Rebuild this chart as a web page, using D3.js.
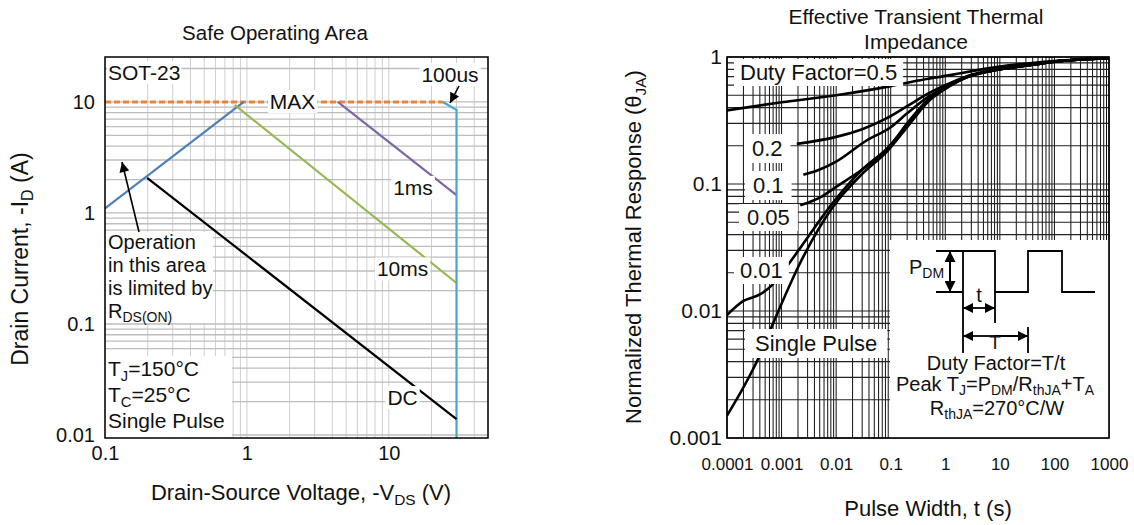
<!DOCTYPE html>
<html><head><meta charset="utf-8">
<script src="https://cdn.jsdelivr.net/npm/d3@7"></script>
<style>
body{margin:0;background:#fff}
svg{display:block}
text{font-family:"Liberation Sans",Arial,Helvetica,sans-serif;fill:#111}
</style>
</head><body>
<svg id="c" width="1134" height="525"></svg>
<script>
// ---------------- DATA ----------------
// Safe Operating Area (left)
const soaVoltageTicks = [0.1, 1, 10];
const soaVoltageTickLabels = ["0.1", "1", "10"];
const soaCurrentTicks = [0.01, 0.1, 1, 10];
const soaCurrentTickLabels = ["0.01", "0.1", "1", "10"];
const soaMax   = [[0.1, 10], [24, 10]];
const soaRdsOn = [[0.1, 1.1], [0.95, 10]];
const soa100us = [[24, 10], [30, 8.5], [30, 0.0094]];
const soa1ms   = [[4.37, 10], [30, 1.45]];
const soa10ms  = [[0.82, 9.4], [30, 0.234]];
const soaDC    = [[0.198, 2.07], [30, 0.0139]];

// Transient thermal impedance (right)
const zthTimeTicks = [1e-4, 1e-3, 0.01, 0.1, 1, 10, 100, 1000];
const zthTimeTickLabels = ["0.0001", "0.001", "0.01", "0.1", "1", "10", "100", "1000"];
const zthTicks = [0.001, 0.01, 0.1, 1];
const zthTickLabels = ["0.001", "0.01", "0.1", "1"];
const duty05 = [[1e-4,0.38],[1e-3,0.44],[0.01,0.5],[0.1,0.59],[0.3,0.65],[1,0.71],[10,0.84],[100,0.93],[1000,0.98]];
const duty02 = [[0.0019,0.207],[0.01,0.235],[0.03,0.27],[0.085,0.33],[0.2,0.41],[0.5,0.52],[1,0.6],[2.4,0.7],[10,0.8],[40,0.87],[100,0.92],[1000,0.98]];
const duty01 = [[0.0025,0.118],[0.005,0.13],[0.01,0.15],[0.036,0.22],[0.1,0.28],[0.2,0.36],[0.5,0.49],[1,0.58],[2.4,0.7],[10,0.8],[40,0.87],[100,0.92],[1000,0.98]];
const duty005 = [[0.0022,0.068],[0.005,0.078],[0.01,0.095],[0.03,0.13],[0.085,0.185],[0.2,0.3],[0.5,0.47],[1,0.57],[2.4,0.69],[10,0.8],[40,0.87],[100,0.92],[1000,0.98]];
const duty001 = [[1e-4,0.0093],[2e-4,0.012],[4e-4,0.0135],[6.7e-4,0.016],[0.0015,0.025],[0.0087,0.071],[0.03,0.13],[0.085,0.19],[0.2,0.29],[0.5,0.46],[1,0.57],[2.4,0.69],[10,0.8],[40,0.87],[100,0.92],[1000,0.98]];
const singlePulse = [[1e-4,0.0015],[4e-4,0.0045],[7e-4,0.008],[0.0022,0.024],[0.0087,0.066],[0.03,0.12],[0.085,0.18],[0.2,0.28],[0.5,0.45],[1,0.56],[2.4,0.69],[10,0.8],[40,0.87],[100,0.92],[1000,0.98]];

// ---------------- HELPERS ----------------
const svg = d3.select("#c");
const defs = svg.append("defs");
defs.append("marker").attr("id","ah").attr("viewBox","0 0 10 10").attr("refX",10).attr("refY",5)
  .attr("markerWidth",11).attr("markerHeight",10).attr("markerUnits","userSpaceOnUse")
  .attr("orient","auto-start-reverse")
  .append("path").attr("d","M0,0L10,5L0,10z").attr("fill","#000");
defs.append("marker").attr("id","ah2").attr("viewBox","0 0 10 10").attr("refX",10).attr("refY",5)
  .attr("markerWidth",11).attr("markerHeight",11).attr("markerUnits","userSpaceOnUse")
  .attr("orient","auto-start-reverse")
  .append("path").attr("d","M0,0L10,5L0,10z").attr("fill","#000");

function rich(g, x, y, parts, size, anchor) {
  const t = g.append("text").attr("x", x).attr("y", y).attr("font-size", size)
    .attr("text-anchor", anchor || "start");
  let inSub = false;
  const sh = size * 0.22;
  parts.forEach(p => {
    const isSub = Array.isArray(p);
    const ts = t.append("tspan").text(isSub ? p[0] : p);
    if (isSub) {
      ts.attr("font-size", size * 0.7);
      if (!inSub) ts.attr("dy", sh);
      inSub = true;
    } else {
      if (inSub) ts.attr("dy", -sh);
      inSub = false;
    }
  });
  return t;
}
function boxBehind(g, textSel, px, py) {
  const b = textSel.node().getBBox();
  g.insert("rect", () => textSel.node())
    .attr("x", b.x - px).attr("y", b.y - py)
    .attr("width", b.width + 2 * px).attr("height", b.height + 2 * py)
    .attr("fill", "#fff");
}
function logGrid(domain) {
  const out = [];
  const lo = Math.floor(Math.log10(domain[0])), hi = Math.ceil(Math.log10(domain[1]));
  for (let e = lo; e <= hi; e++) for (let k = 1; k <= 9; k++) {
    const v = k * Math.pow(10, e);
    if (v >= domain[0] * 0.9999 && v <= domain[1] * 1.0001) out.push(v);
  }
  return out;
}

// ---------------- LEFT: SOA ----------------
const L = {x0: 105, x1: 488, y0: 57, y1: 438};
const xL = d3.scaleLog().domain([0.1, 50]).range([L.x0, L.x1]);
const yL = d3.scaleLog().domain([0.0094, 25.4]).range([L.y1, L.y0]);
const gL = svg.append("g");
defs.append("clipPath").attr("id","clipL").append("rect")
  .attr("x", L.x0).attr("y", L.y0).attr("width", L.x1 - L.x0).attr("height", L.y1 - L.y0);

gL.append("text").attr("x", 275).attr("y", 40).attr("text-anchor","middle").attr("font-size", 20.5).text("Safe Operating Area");

const gridL = gL.append("g");
gridL.selectAll(".v").data(logGrid(xL.domain())).join("line")
  .attr("x1", d => xL(d)).attr("x2", d => xL(d)).attr("y1", L.y0).attr("y2", L.y1)
  .attr("stroke", "#cfcfcf").attr("stroke-width", 1);
gridL.selectAll(".h").data(logGrid(yL.domain())).join("line")
  .attr("y1", d => yL(d)).attr("y2", d => yL(d)).attr("x1", L.x0).attr("x2", L.x1)
  .attr("stroke", "#bdbdbd").attr("stroke-width", 1.3);

const lineL = d3.line().x(d => xL(d[0])).y(d => yL(d[1]));
const plotL = gL.append("g").attr("clip-path", "url(#clipL)");
plotL.append("path").attr("d", lineL(soaMax)).attr("fill","none").attr("stroke","#e8853a").attr("stroke-width",3).attr("stroke-dasharray","6,3");
plotL.append("path").attr("d", lineL(soaRdsOn)).attr("fill","none").attr("stroke","#4f7fb8").attr("stroke-width",2.2);
plotL.append("path").attr("d", lineL(soa10ms)).attr("fill","none").attr("stroke","#98b856").attr("stroke-width",2.2);
plotL.append("path").attr("d", lineL(soa1ms)).attr("fill","none").attr("stroke","#7e66a4").attr("stroke-width",2.2);
plotL.append("path").attr("d", lineL(soa100us)).attr("fill","none").attr("stroke","#46a8c6").attr("stroke-width",2.2);
plotL.append("path").attr("d", lineL(soaDC)).attr("fill","none").attr("stroke","#000").attr("stroke-width",2.2);

// annotations left
const aL = gL.append("g");
const fsL = 21;
let t;
t = aL.append("text").attr("x", 108).attr("y", 80).attr("font-size", fsL).text("SOT-23"); boxBehind(aL, t, 1, 0);
t = aL.append("text").attr("x", 450).attr("y", 82).attr("font-size", fsL).attr("text-anchor","middle").text("100us"); boxBehind(aL, t, 2, 0);
t = aL.append("text").attr("x", xL(2.1)).attr("y", yL(10) + 7).attr("font-size", fsL).attr("text-anchor","middle").text("MAX"); boxBehind(aL, t, 2, 0);
t = aL.append("text").attr("x", xL(14.8)).attr("y", yL(1.68) + 7).attr("font-size", fsL).attr("text-anchor","middle").text("1ms"); boxBehind(aL, t, 2, 0);
t = aL.append("text").attr("x", xL(12.5)).attr("y", yL(0.31) + 7).attr("font-size", fsL).attr("text-anchor","middle").text("10ms"); boxBehind(aL, t, 2, 0);
t = aL.append("text").attr("x", xL(12.5)).attr("y", yL(0.0215) + 7).attr("font-size", fsL).attr("text-anchor","middle").text("DC"); boxBehind(aL, t, 2, 0);

aL.append("rect").attr("x", L.x0 + 1).attr("y", 232).attr("width", 107).attr("height", 91).attr("fill","#fff");
aL.append("text").attr("x", 108).attr("y", 249).attr("font-size", 20).text("Operation");
aL.append("text").attr("x", 108).attr("y", 272).attr("font-size", 20).text("in this area");
aL.append("text").attr("x", 108).attr("y", 295).attr("font-size", 20).text("is limited by");
rich(aL, 108, 318, ["R", ["DS(ON)"]], 20);
aL.append("line").attr("x1",139).attr("y1",232).attr("x2",122).attr("y2",162)
  .attr("stroke","#000").attr("stroke-width",1.6).attr("marker-end","url(#ah)");
aL.append("line").attr("x1",459).attr("y1",86).attr("x2",450).attr("y2",103)
  .attr("stroke","#000").attr("stroke-width",1.6).attr("marker-end","url(#ah)");

aL.append("rect").attr("x", L.x0 + 1).attr("y", 356).attr("width", 126).attr("height", 81).attr("fill","#fff");
rich(aL, 108, 376, ["T", ["J"], "=150°C"], fsL);
rich(aL, 108, 402, ["T", ["C"], "=25°C"], fsL);
aL.append("text").attr("x", 108).attr("y", 428).attr("font-size", fsL).text("Single Pulse");

gL.append("rect").attr("x", L.x0).attr("y", L.y0).attr("width", L.x1 - L.x0).attr("height", L.y1 - L.y0)
  .attr("fill","none").attr("stroke","#000").attr("stroke-width",1.5);

// axes left
const axLB = gL.append("g").attr("transform", `translate(0,${L.y1})`)
  .call(d3.axisBottom(xL).tickValues(soaVoltageTicks).tickFormat((d,i) => soaVoltageTickLabels[i]).tickSize(0).tickPadding(8));
axLB.select(".domain").remove();
axLB.selectAll("text").attr("font-size", 20).attr("font-family", null).attr("fill","#111");
const axLL = gL.append("g").attr("transform", `translate(${L.x0},0)`)
  .call(d3.axisLeft(yL).tickValues(soaCurrentTicks).tickFormat((d,i) => soaCurrentTickLabels[i]).tickSize(0).tickPadding(10));
axLL.select(".domain").remove();
axLL.selectAll("text").attr("font-size", 20).attr("font-family", null).attr("fill","#111");

rich(gL, 301, 500, ["Drain-Source Voltage, -V", ["DS"], " (V)"], 22, "middle");
const yt = rich(gL, 0, 0, ["Drain Current, -I", ["D"], " (A)"], 23, "middle");
yt.attr("transform", "translate(28,259) rotate(-90)");

// ---------------- RIGHT: Zth ----------------
const R = {x0: 727, x1: 1109, y0: 57, y1: 438};
const xR = d3.scaleLog().domain([1e-4, 1e3]).range([R.x0, R.x1]);
const yR = d3.scaleLog().domain([0.001, 1]).range([R.y1, R.y0]);
const gR = svg.append("g");
defs.append("clipPath").attr("id","clipR").append("rect")
  .attr("x", R.x0).attr("y", R.y0).attr("width", R.x1 - R.x0).attr("height", R.y1 - R.y0);

gR.append("text").attr("x", 916).attr("y", 24).attr("text-anchor","middle").attr("font-size", 21).text("Effective Transient Thermal");
gR.append("text").attr("x", 916).attr("y", 49).attr("text-anchor","middle").attr("font-size", 21).text("Impedance");

const gridR = gR.append("g");
gridR.selectAll(".v").data(logGrid(xR.domain())).join("line")
  .attr("x1", d => xR(d)).attr("x2", d => xR(d)).attr("y1", R.y0).attr("y2", R.y1)
  .attr("stroke", "#111").attr("stroke-width", 1);
gridR.selectAll(".h").data(logGrid(yR.domain())).join("line")
  .attr("y1", d => yR(d)).attr("y2", d => yR(d)).attr("x1", R.x0).attr("x2", R.x1)
  .attr("stroke", "#222").attr("stroke-width", 1.2);

// inset white area
gR.append("rect").attr("x", 890).attr("y", 240).attr("width", R.x1 - 890).attr("height", R.y1 - 240).attr("fill","#fff");

const lineR = d3.line().x(d => xR(d[0])).y(d => yR(d[1])).curve(d3.curveMonotoneX);
const plotR = gR.append("g").attr("clip-path", "url(#clipR)");
[duty05, duty02, duty01, duty005, duty001, singlePulse].forEach(s => {
  plotR.append("path").attr("d", lineR(s)).attr("fill","none").attr("stroke","#000").attr("stroke-width",2.6).attr("stroke-linejoin","round");
});

// curve labels
const aR = gR.append("g");
const fsR = 22;
t = aR.append("text").attr("x", 740).attr("y", 80).attr("font-size", fsR).text("Duty Factor=0.5"); boxBehind(aR, t, 6, 1);
t = aR.append("text").attr("x", 752).attr("y", 156).attr("font-size", fsR).text("0.2"); boxBehind(aR, t, 8, 2);
t = aR.append("text").attr("x", 753).attr("y", 193).attr("font-size", fsR).text("0.1"); boxBehind(aR, t, 8, 2);
t = aR.append("text").attr("x", 747).attr("y", 225).attr("font-size", fsR).text("0.05"); boxBehind(aR, t, 8, 1);
t = aR.append("text").attr("x", 740).attr("y", 278).attr("font-size", fsR).text("0.01"); boxBehind(aR, t, 6, 1);
t = aR.append("text").attr("x", 755).attr("y", 351).attr("font-size", fsR).text("Single Pulse"); boxBehind(aR, t, 10, 2);

// inset diagram
const ins = gR.append("g").attr("stroke","#000").attr("stroke-width",1.8).attr("fill","none");
ins.append("path").attr("d","M936,251H995V292H1028V251H1062V292H1095");
ins.append("path").attr("d","M936,292H963M963,251V353M995,292V323M1028,327V353");
ins.append("line").attr("x1",950).attr("y1",272).attr("x2",950).attr("y2",251).attr("stroke-width",2).attr("marker-end","url(#ah2)");
ins.append("line").attr("x1",950).attr("y1",272).attr("x2",950).attr("y2",292).attr("stroke-width",2).attr("marker-end","url(#ah2)");
ins.append("line").attr("x1",979).attr("y1",308).attr("x2",963).attr("y2",308).attr("marker-end","url(#ah)");
ins.append("line").attr("x1",979).attr("y1",308).attr("x2",995).attr("y2",308).attr("marker-end","url(#ah)");
ins.append("line").attr("x1",995).attr("y1",336).attr("x2",963).attr("y2",336).attr("marker-end","url(#ah)");
ins.append("line").attr("x1",995).attr("y1",336).attr("x2",1028).attr("y2",336).attr("marker-end","url(#ah)");
const fsI = 20;
rich(gR, 909, 274, ["P", ["DM"]], fsI);
gR.append("text").attr("x", 979).attr("y", 302).attr("text-anchor","middle").attr("font-size", fsI).text("t");
gR.append("text").attr("x", 995).attr("y", 349).attr("text-anchor","middle").attr("font-size", 19).text("T");
gR.append("text").attr("x", 996).attr("y", 370).attr("text-anchor","middle").attr("font-size", fsI).text("Duty Factor=T/t");
rich(gR, 995, 391, ["Peak T", ["J"], "=P", ["DM"], "/R", ["thJA"], "+T", ["A"]], fsI, "middle");
rich(gR, 997, 415, ["R", ["thJA"], "=270°C/W"], fsI, "middle");

gR.append("rect").attr("x", R.x0).attr("y", R.y0).attr("width", R.x1 - R.x0).attr("height", R.y1 - R.y0)
  .attr("fill","none").attr("stroke","#000").attr("stroke-width",1.6);

const axRB = gR.append("g").attr("transform", `translate(0,${R.y1})`)
  .call(d3.axisBottom(xR).tickValues(zthTimeTicks).tickFormat((d,i) => zthTimeTickLabels[i]).tickSize(0).tickPadding(20));
axRB.select(".domain").remove();
axRB.selectAll("text").attr("font-size", 17).attr("font-family", null).attr("fill","#111");
const axRL = gR.append("g").attr("transform", `translate(${R.x0},0)`)
  .call(d3.axisLeft(yR).tickValues(zthTicks).tickFormat((d,i) => zthTickLabels[i]).tickSize(0).tickPadding(5));
axRL.select(".domain").remove();
axRL.selectAll("text").attr("font-size", 21).attr("font-family", null).attr("fill","#111");

gR.append("text").attr("x", 928).attr("y", 516).attr("text-anchor","middle").attr("font-size", 22).text("Pulse Width, t (s)");
const yt2 = rich(gR, 0, 0, ["Normalized Thermal Response (θ", ["JA"], ")"], 22, "middle");
yt2.attr("transform", "translate(641,247) rotate(-90)");
</script>
</body></html>
